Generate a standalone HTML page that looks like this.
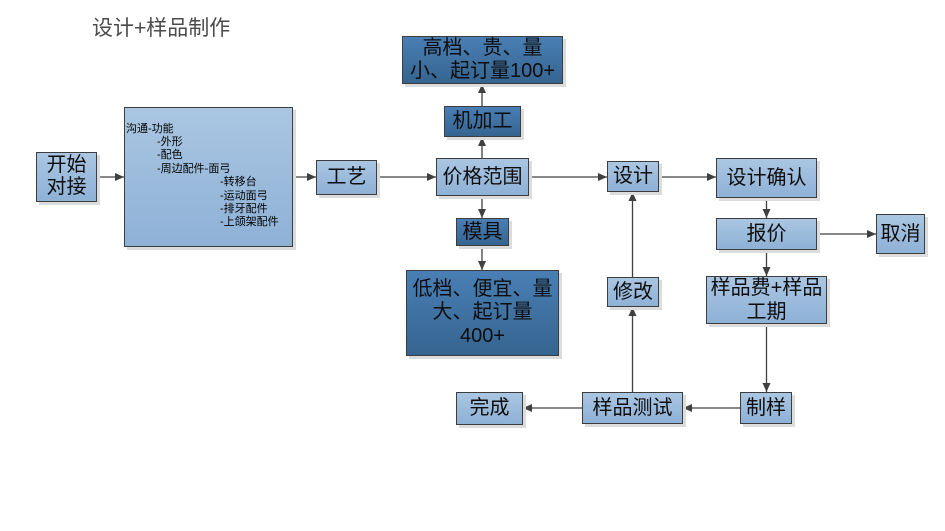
<!DOCTYPE html>
<html>
<head>
<meta charset="utf-8">
<style>
  html,body{margin:0;padding:0;background:#fff;}
  body{width:945px;height:531px;position:relative;overflow:hidden;font-family:"Liberation Sans","Noto Sans CJK SC",sans-serif;}
  .b{position:absolute;box-sizing:border-box;border:1.3px solid #3d3d3d;box-shadow:3px 3px 0 #dcdcdc;display:flex;align-items:center;justify-content:center;text-align:center;color:#0d0d0d;font-size:20px;line-height:23px;}
  .l{background:linear-gradient(to bottom,#aac6e2,#8eb1d6);}
  .d{background:linear-gradient(to bottom,#4a7fb5,#35648f);}
  .title{position:absolute;left:92px;top:16px;font-size:21px;color:#4a4a4a;line-height:26px;white-space:nowrap;}
  .notes{position:absolute;left:126px;top:122.6px;font-size:11px;line-height:13.4px;color:#000;white-space:pre;}
  .notes div{height:13.4px;}
  svg{position:absolute;left:0;top:0;}
</style>
</head>
<body>
<div class="title">设计+样品制作</div>

<svg width="945" height="531" viewBox="0 0 945 531">
  <defs>
    <marker id="a" markerWidth="10" markerHeight="10" refX="9" refY="5" orient="auto" markerUnits="userSpaceOnUse">
      <path d="M0,1 L9,5 L0,9 Z" fill="#404040"/>
    </marker>
  </defs>
  <g stroke="#404040" stroke-width="1.3" fill="none" marker-end="url(#a)">
    <line x1="97" y1="177" x2="124" y2="177"/>
    <line x1="293" y1="177" x2="316" y2="177"/>
    <line x1="377" y1="177" x2="436" y2="177"/>
    <line x1="529" y1="177" x2="607" y2="177"/>
    <line x1="659" y1="177" x2="716" y2="177"/>
    <line x1="482" y1="158" x2="482" y2="137"/>
    <line x1="482" y1="106" x2="482" y2="84"/>
    <line x1="482" y1="196" x2="482" y2="218"/>
    <line x1="482" y1="246" x2="482" y2="270"/>
    <line x1="766.5" y1="198" x2="766.5" y2="218"/>
    <line x1="817" y1="234" x2="876" y2="234"/>
    <line x1="766.5" y1="250" x2="766.5" y2="276"/>
    <line x1="766.5" y1="324" x2="766.5" y2="392"/>
    <line x1="740" y1="408" x2="683" y2="408"/>
    <line x1="582" y1="408" x2="523" y2="408"/>
    <line x1="632.5" y1="392" x2="632.5" y2="307"/>
    <line x1="632.5" y1="277" x2="632.5" y2="192"/>
  </g>
</svg>

<div class="b l" style="left:36px;top:152px;width:61px;height:50px;line-height:21.7px;">开始<br>对接</div>

<div class="b l" style="left:124px;top:107px;width:169px;height:140px;"></div>
<div class="notes"><div>沟通-功能</div><div style="padding-left:31px">-外形</div><div style="padding-left:31px">-配色</div><div style="padding-left:31px">-周边配件-面弓</div><div style="padding-left:94px">-转移台</div><div style="padding-left:94px">-运动面弓</div><div style="padding-left:94px">-排牙配件</div><div style="padding-left:94px">-上颌架配件</div></div>

<div class="b l" style="left:316px;top:160px;width:61px;height:35px;">工艺</div>
<div class="b l" style="left:436px;top:158px;width:93px;height:38px;">价格范围</div>

<div class="b d" style="left:402px;top:36px;width:161px;height:48px;">高档、贵、量<br>小、起订量100+</div>
<div class="b d" style="left:444px;top:106px;width:77px;height:31px;">机加工</div>
<div class="b d" style="left:456px;top:218px;width:53px;height:28px;">模具</div>
<div class="b d" style="left:406px;top:270px;width:153px;height:86px;line-height:23.5px;">低档、便宜、量<br>大、起订量<br>400+</div>

<div class="b l" style="left:607px;top:161px;width:52px;height:31px;">设计</div>
<div class="b l" style="left:716px;top:158px;width:101px;height:40px;">设计确认</div>
<div class="b l" style="left:716px;top:218px;width:101px;height:32px;">报价</div>
<div class="b l" style="left:876px;top:214px;width:49px;height:40px;">取消</div>
<div class="b l" style="left:607px;top:277px;width:52px;height:30px;">修改</div>
<div class="b l" style="left:706px;top:276px;width:121px;height:48px;line-height:24px;">样品费+样品<br>工期</div>
<div class="b l" style="left:740px;top:392px;width:52px;height:32px;">制样</div>
<div class="b l" style="left:582px;top:392px;width:101px;height:32px;">样品测试</div>
<div class="b l" style="left:456px;top:392px;width:67px;height:33px;">完成</div>
</body>
</html>
